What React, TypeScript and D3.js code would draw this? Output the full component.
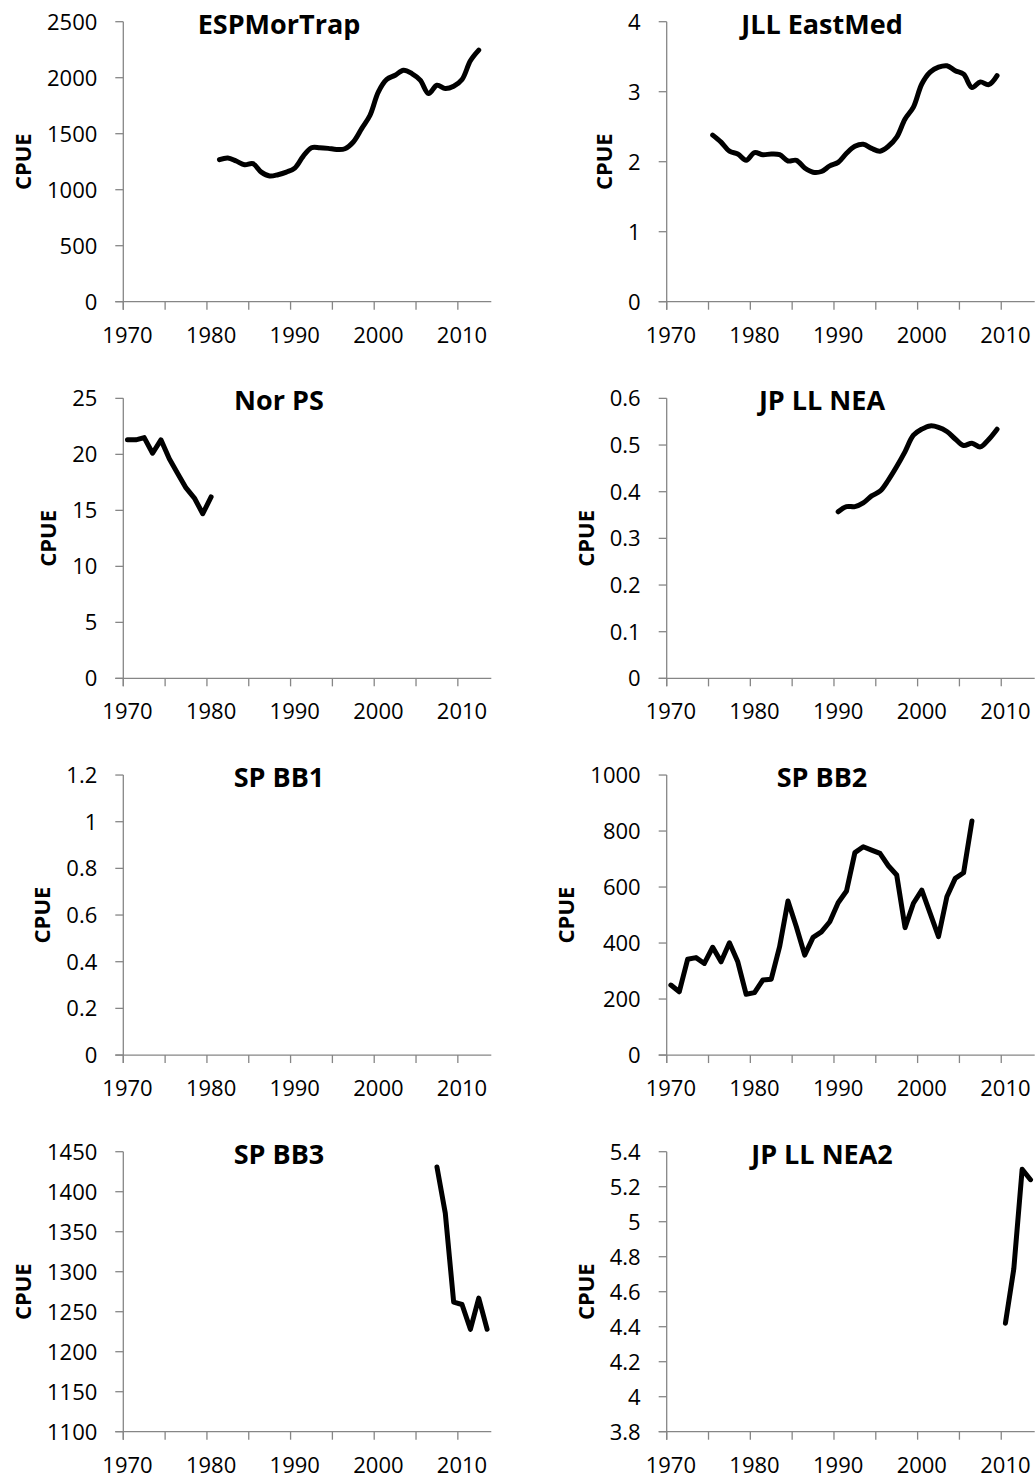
import React, { useEffect, useRef } from "react";
import * as d3 from "d3";

// Category axis: one slot per year, 1970–2013
const YEARS: number[] = d3.range(1970, 2014);

// CPUE series, one value per year starting at the given first year
const espMorTrapStart = 1981;
const espMorTrap = [1268, 1283, 1256, 1223, 1232, 1157, 1122, 1134, 1157, 1193, 1298, 1375, 1375, 1369, 1360, 1366, 1426, 1545, 1665, 1873, 1984, 2022, 2067, 2037, 1978, 1858, 1933, 1903, 1924, 1984, 2151, 2246];

const jllEastMedStart = 1975;
const jllEastMed = [2.38, 2.28, 2.15, 2.11, 2.02, 2.13, 2.1, 2.11, 2.1, 2.01, 2.02, 1.91, 1.85, 1.86, 1.94, 1.99, 2.12, 2.22, 2.25, 2.19, 2.15, 2.22, 2.35, 2.61, 2.78, 3.11, 3.28, 3.35, 3.37, 3.3, 3.25, 3.06, 3.14, 3.1, 3.23];

const norPSStart = 1970;
const norPS = [21.3, 21.3, 21.5, 20.1, 21.3, 19.6, 18.3, 17.0, 16.1, 14.7, 16.2];

const jpLLNEAStart = 1990;
const jpLLNEA = [0.357, 0.368, 0.368, 0.376, 0.391, 0.401, 0.425, 0.454, 0.486, 0.521, 0.534, 0.541, 0.538, 0.529, 0.513, 0.499, 0.504, 0.496, 0.512, 0.534];

const spBB1Start = 1970;
const spBB1: number[] = [];

const spBB2Start = 1970;
const spBB2 = [250, 226, 342, 348, 327, 385, 333, 401, 333, 217, 223, 268, 271, 387, 550, 458, 357, 420, 440, 476, 544, 586, 723, 744, 732, 720, 676, 643, 455, 542, 589, 506, 423, 565, 631, 651, 836];

const spBB3Start = 2007;
const spBB3 = [1431, 1373, 1262, 1259, 1228, 1267, 1228];

const jpLLNEA2Start = 2010;
const jpLLNEA2 = [4.42, 4.73, 5.3, 5.24];

// Y-axis tick values per panel
const ticksESP = [0, 500, 1000, 1500, 2000, 2500];
const ticksJLL = [0, 1, 2, 3, 4];
const ticksNor = [0, 5, 10, 15, 20, 25];
const ticksJPNEA = [0, 0.1, 0.2, 0.3, 0.4, 0.5, 0.6];
const ticksBB1 = [0, 0.2, 0.4, 0.6, 0.8, 1, 1.2];
const ticksBB2 = [0, 200, 400, 600, 800, 1000];
const ticksBB3 = [1100, 1150, 1200, 1250, 1300, 1350, 1400, 1450];
const ticksJPNEA2 = [3.8, 4, 4.2, 4.4, 4.6, 4.8, 5, 5.2, 5.4];

// X-axis labels
const xLabelYears = [1970, 1980, 1990, 2000, 2010];

interface Panel {
  title: string;
  start: number;
  values: number[];
  ticks: number[];
  smooth: boolean;
  col: number;
  row: number;
}

const panels: Panel[] = [
  { title: "ESPMorTrap", start: espMorTrapStart, values: espMorTrap, ticks: ticksESP, smooth: true, col: 0, row: 0 },
  { title: "JLL EastMed", start: jllEastMedStart, values: jllEastMed, ticks: ticksJLL, smooth: true, col: 1, row: 0 },
  { title: "Nor PS", start: norPSStart, values: norPS, ticks: ticksNor, smooth: false, col: 0, row: 1 },
  { title: "JP LL NEA", start: jpLLNEAStart, values: jpLLNEA, ticks: ticksJPNEA, smooth: true, col: 1, row: 1 },
  { title: "SP BB1", start: spBB1Start, values: spBB1, ticks: ticksBB1, smooth: false, col: 0, row: 2 },
  { title: "SP BB2", start: spBB2Start, values: spBB2, ticks: ticksBB2, smooth: false, col: 1, row: 2 },
  { title: "SP BB3", start: spBB3Start, values: spBB3, ticks: ticksBB3, smooth: false, col: 0, row: 3 },
  { title: "JP LL NEA2", start: jpLLNEA2Start, values: jpLLNEA2, ticks: ticksJPNEA2, smooth: false, col: 1, row: 3 },
];

const WIDTH = 1036;
const HEIGHT = 1481;
const FONT = "'Open Sans', 'Noto Sans', sans-serif";
const AXIS_COLOR = "#868686";

const AXIS_X = [123.3, 666.7];
const TITLE_X = [279, 822];
const PLOT_W = 368;
const PLOT_H = 280;
const ROW_TOP0 = 21.7;
const ROW_STEP = 376.67;

export default function App() {
  const ref = useRef<SVGSVGElement | null>(null);

  useEffect(() => {
    const svg = d3.select(ref.current);
    svg.selectAll("*").remove();

    panels.forEach((p) => {
      const axisX = AXIS_X[p.col];
      const top = ROW_TOP0 + p.row * ROW_STEP;
      const bottom = top + PLOT_H;

      const x = d3.scaleBand<number>().domain(YEARS).range([axisX, axisX + PLOT_W]);
      const bw = x.bandwidth();
      const y = d3
        .scaleLinear()
        .domain([p.ticks[0], p.ticks[p.ticks.length - 1]])
        .range([bottom, top]);

      const g = svg.append("g");

      // Y axis
      g.append("line")
        .attr("x1", axisX).attr("x2", axisX)
        .attr("y1", top).attr("y2", bottom + 8)
        .attr("stroke", AXIS_COLOR).attr("stroke-width", 1.3);
      g.selectAll("line.ytick")
        .data(p.ticks)
        .join("line")
        .attr("class", "ytick")
        .attr("x1", axisX - 8).attr("x2", axisX)
        .attr("y1", (d) => y(d)).attr("y2", (d) => y(d))
        .attr("stroke", AXIS_COLOR).attr("stroke-width", 1.3);
      const yLabels = g.selectAll("text.ylab")
        .data(p.ticks)
        .join("text")
        .attr("class", "ylab")
        .attr("x", axisX - 26)
        .attr("y", (d) => y(d))
        .attr("dy", "0.36em")
        .attr("text-anchor", "end")
        .attr("font-family", FONT)
        .attr("font-size", 22)
        .attr("fill", "#000")
        .text((d) => String(d));

      // X axis
      g.append("line")
        .attr("x1", axisX - 8).attr("x2", axisX + PLOT_W)
        .attr("y1", bottom).attr("y2", bottom)
        .attr("stroke", AXIS_COLOR).attr("stroke-width", 1.3);
      const tickYears = YEARS.filter((yr) => yr % 5 === 0);
      g.selectAll("line.xtick")
        .data(tickYears)
        .join("line")
        .attr("class", "xtick")
        .attr("x1", (d) => x(d)!).attr("x2", (d) => x(d)!)
        .attr("y1", bottom).attr("y2", bottom + 8)
        .attr("stroke", AXIS_COLOR).attr("stroke-width", 1.3);
      g.selectAll("text.xlab")
        .data(xLabelYears)
        .join("text")
        .attr("class", "xlab")
        .attr("x", (d) => x(d)! + bw / 2)
        .attr("y", bottom + 33)
        .attr("dy", "0.36em")
        .attr("text-anchor", "middle")
        .attr("font-family", FONT)
        .attr("font-size", 22)
        .attr("fill", "#000")
        .text((d) => String(d));

      // Axis title, placed just left of the widest tick label
      let minLeft = axisX - 26;
      yLabels.each(function () {
        const bb = (this as SVGTextElement).getBBox();
        minLeft = Math.min(minLeft, bb.x);
      });
      const titleX = minLeft - 16;
      g.append("text")
        .attr("transform", `translate(${titleX},${(top + bottom) / 2}) rotate(-90)`)
        .attr("text-anchor", "middle")
        .attr("font-family", FONT)
        .attr("font-weight", 700)
        .attr("font-size", 22)
        .attr("fill", "#000")
        .text("CPUE");

      // Chart title
      g.append("text")
        .attr("x", TITLE_X[p.col])
        .attr("y", top + 12)
        .attr("text-anchor", "middle")
        .attr("font-family", FONT)
        .attr("font-weight", 700)
        .attr("font-size", 27)
        .attr("fill", "#000")
        .text(p.title);

      // Series line
      if (p.values.length > 0) {
        const pts = p.values.map((v, i) => ({ year: p.start + i, v }));
        const line = d3
          .line<{ year: number; v: number }>()
          .x((d) => x(d.year)! + bw / 2)
          .y((d) => y(d.v))
          .curve(p.smooth ? d3.curveCatmullRom : d3.curveLinear);
        g.append("path")
          .attr("d", line(pts))
          .attr("fill", "none")
          .attr("stroke", "#000")
          .attr("stroke-width", 5)
          .attr("stroke-linejoin", "round")
          .attr("stroke-linecap", "round");
      }
    });
  }, []);

  return (
    <svg
      ref={ref}
      width={WIDTH}
      height={HEIGHT}
      style={{ position: "absolute", left: 0, top: 0, background: "#fff" }}
    />
  );
}
